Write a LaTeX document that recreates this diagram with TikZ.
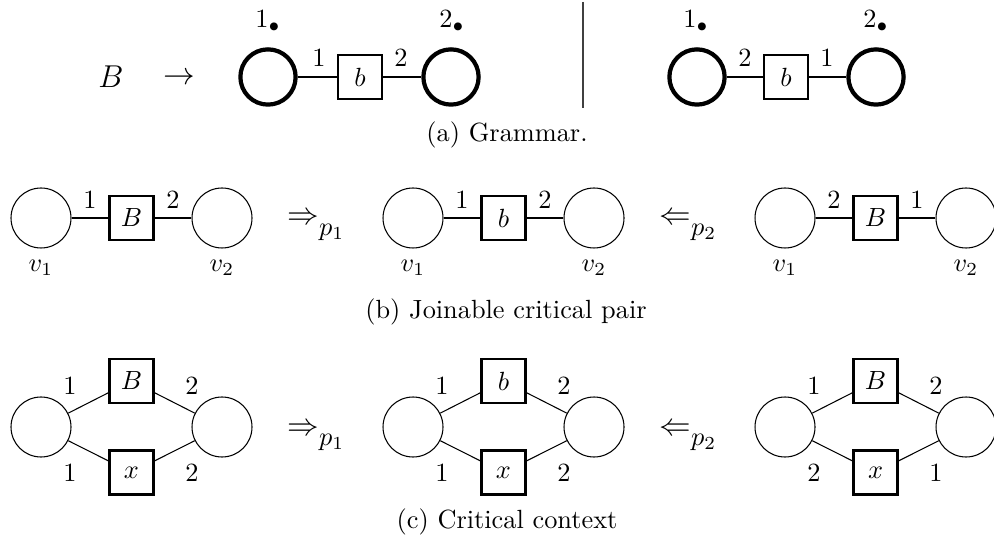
\documentclass[tikz,border=0pt]{standalone}
\begin{document}
\begin{tikzpicture}[x=0.38pt,y=-0.38pt,
  vtx/.style={circle,draw,minimum size=22.8pt,inner sep=0pt,line width=0.4pt},
  tvtx/.style={circle,draw,minimum size=21pt,inner sep=0pt,line width=1.6pt},
  hedge/.style={rectangle,draw,minimum size=16.7pt,inner sep=0pt,line width=0.8pt},
  conn/.style={line width=0.4pt},
  lab/.style={inner sep=0pt},
  big/.style={inner sep=0pt,font=\large},
  sepline/.style={line width=0.4pt,black!75},
]
\clip (0,0) rectangle (994,542);

% ---------- (a) Grammar ----------
\node[big,anchor=base] (aB) at (111,88) {$B$};
\node[big,anchor=base] (aarr) at (179,85) {$\rightarrow$};
\node[tvtx] (a1) at (268,77) {};
\node[hedge] (ab) at (360,77) {$b$};
\node[tvtx] (a2) at (451,77) {};
\draw[conn] (a1) -- (ab);
\draw[conn] (ab) -- (a2);
\node[lab] (a1e) at (319,57.5) {1};
\node[lab] (a2e) at (401,57.5) {2};
\node[lab,anchor=base] (a1t) at (268,28) {$1_\bullet$};
\node[lab,anchor=base] (a2t) at (452,28) {$2_\bullet$};

\coordinate (vt) at (583,2);
\coordinate (vb) at (583,108);
\draw[sepline] (vt) -- (vb);

\node[tvtx] (a3) at (697,77) {};
\node[hedge] (ab2) at (786,77) {$b$};
\node[tvtx] (a4) at (876,77) {};
\draw[conn] (a3) -- (ab2);
\draw[conn] (ab2) -- (a4);
\node[lab] (a3e) at (745,57.5) {2};
\node[lab] (a4e) at (827,57.5) {1};
\node[lab,anchor=base] (a3t) at (696,28) {$1_\bullet$};
\node[lab,anchor=base] (a4t) at (876,28) {$2_\bullet$};

\node[lab,anchor=base] (capa) at (507,142) {(a) Grammar.};

% ---------- (b) Joinable critical pair ----------
\foreach \o/\n/\h/\p/\q in {0/l/B/1/2, 372/m/b/1/2, 744/r/B/2/1}{
  \node[vtx] (b1\n) at (\o+41,218) {};
  \node[hedge] (bh\n) at (\o+131.5,218) {$\h$};
  \node[vtx] (b2\n) at (\o+222,218) {};
  \draw[conn] (b1\n) -- (bh\n);
  \draw[conn] (bh\n) -- (b2\n);
  \node[lab] (bp\n) at (\o+90,199.5) {\p};
  \node[lab] (bq\n) at (\o+173,199.5) {\q};
  \node[lab] (bv1\n) at (\o+41,268) {$v_1$};
  \node[lab] (bv2\n) at (\o+222,268) {$v_2$};
}
\node[lab,anchor=base west] (bar1) at (287,225) {{\large$\Rightarrow$}\raisebox{-4pt}{$p_1$}};
\node[lab,anchor=base west] (bar2) at (659,225) {{\large$\Leftarrow$}\raisebox{-4pt}{$p_2$}};
\node[lab,anchor=base] (capb) at (506,319) {(b) Joinable critical pair};

% ---------- (c) Critical context ----------
\foreach \o/\n/\h/\p/\q/\r/\s in {0/l/B/1/2/1/2, 372/m/b/1/2/1/2, 744/r/B/1/2/2/1}{
  \node[vtx] (c1\n) at (\o+41,427) {};
  \node[hedge] (ch\n) at (\o+131.5,381) {$\h$};
  \node[hedge] (cx\n) at (\o+131.5,472.5) {$x$};
  \node[vtx] (c2\n) at (\o+222,427) {};
  \draw[conn] (c1\n) -- (ch\n);
  \draw[conn] (ch\n) -- (c2\n);
  \draw[conn] (c1\n) -- (cx\n);
  \draw[conn] (cx\n) -- (c2\n);
  \node[lab] (cp\n) at (\o+70,386) {\p};
  \node[lab] (cq\n) at (\o+192,386) {\q};
  \node[lab] (cr\n) at (\o+70,473) {\r};
  \node[lab] (cs\n) at (\o+192,473) {\s};
}
\node[lab,anchor=base west] (car1) at (287,435) {{\large$\Rightarrow$}\raisebox{-4pt}{$p_1$}};
\node[lab,anchor=base west] (car2) at (659,435) {{\large$\Leftarrow$}\raisebox{-4pt}{$p_2$}};
\node[lab,anchor=base] (capc) at (507,528) {(c) Critical context};
\end{tikzpicture}
\end{document}
